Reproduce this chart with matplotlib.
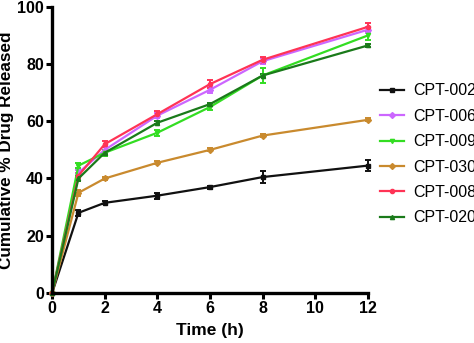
import matplotlib.pyplot as plt
from matplotlib.lines import Line2D

plt.rcParams['font.family'] = ['Liberation Sans', 'DejaVu Sans']

time_h = [0, 1, 2, 4, 6, 8, 12]

cpt002 = [0, 28, 31.5, 34, 37, 40.5, 44.5]
cpt006 = [0, 42, 50, 62, 71, 81, 92]
cpt009 = [0, 44.5, 49, 56, 65, 76, 90]
cpt030 = [0, 35, 40, 45.5, 50, 55, 60.5]
cpt008 = [0, 41, 52, 62.5, 73, 81.5, 93]
cpt020 = [0, 40, 49, 59.5, 66, 76, 86.5]

err002 = [0, 1, 0.5, 1, 0.5, 2, 2]
err006 = [0, 1, 1, 1, 1, 1, 1]
err009 = [0, 1, 1, 1, 1, 2.5, 1.5]
err030 = [0, 1, 0.5, 0.5, 0.5, 0.5, 0.5]
err008 = [0, 1, 1, 1, 1.5, 1, 1.5]
err020 = [0, 1, 0.5, 0.5, 0.5, 0.5, 0.5]

names = ['CPT-002', 'CPT-006', 'CPT-009', 'CPT-030', 'CPT-008', 'CPT-020']
series = [cpt002, cpt006, cpt009, cpt030, cpt008, cpt020]
errors = [err002, err006, err009, err030, err008, err020]
colors = ['#111111', '#cc66ff', '#33dd22', '#c98a2e', '#ff3355', '#1a7a1a']
markers = ['s', 'D', 'v', 'D', 'o', '^']

fig = plt.figure(figsize=(4.74, 3.43), dpi=100)
ax = fig.add_axes([0.110, 0.146, 0.666, 0.834])

handles = []
for y, e, c, m, n in zip(series, errors, colors, markers, names):
    ax.errorbar(time_h, y, yerr=e, color=c, marker=m, markersize=3,
                linewidth=1.6, elinewidth=1.4, capsize=2.5, capthick=1.4,
                clip_on=False)
    handles.append(Line2D([], [], color=c, marker=m, markersize=3,
                          linewidth=1.6, label=n))

ax.set_xlim(0, 12)
ax.set_ylim(0, 100)
ax.set_xticks([0, 2, 4, 6, 8, 10, 12])
ax.set_yticks([0, 20, 40, 60, 80, 100])
for s in ['top', 'right']:
    ax.spines[s].set_visible(False)
for s in ['left', 'bottom']:
    ax.spines[s].set_linewidth(2.4)
ax.tick_params(width=2.2, length=4, labelsize=11.5, pad=2)
for lab in ax.get_xticklabels() + ax.get_yticklabels():
    lab.set_fontweight('bold')

ax.set_xlabel('Time (h)', fontsize=12.5, fontweight='bold', labelpad=5)
ax.set_ylabel('Cumulative % Drug Released', fontsize=12.3, fontweight='bold',
              labelpad=2)

fig.legend(handles=handles, loc='center left',
           bbox_to_anchor=(0.801, 0.550), frameon=False,
           fontsize=11.5, handlelength=1.55, handletextpad=0.55,
           labelspacing=0.65, borderaxespad=0, borderpad=0)

fig.savefig('out.png', dpi=100)
